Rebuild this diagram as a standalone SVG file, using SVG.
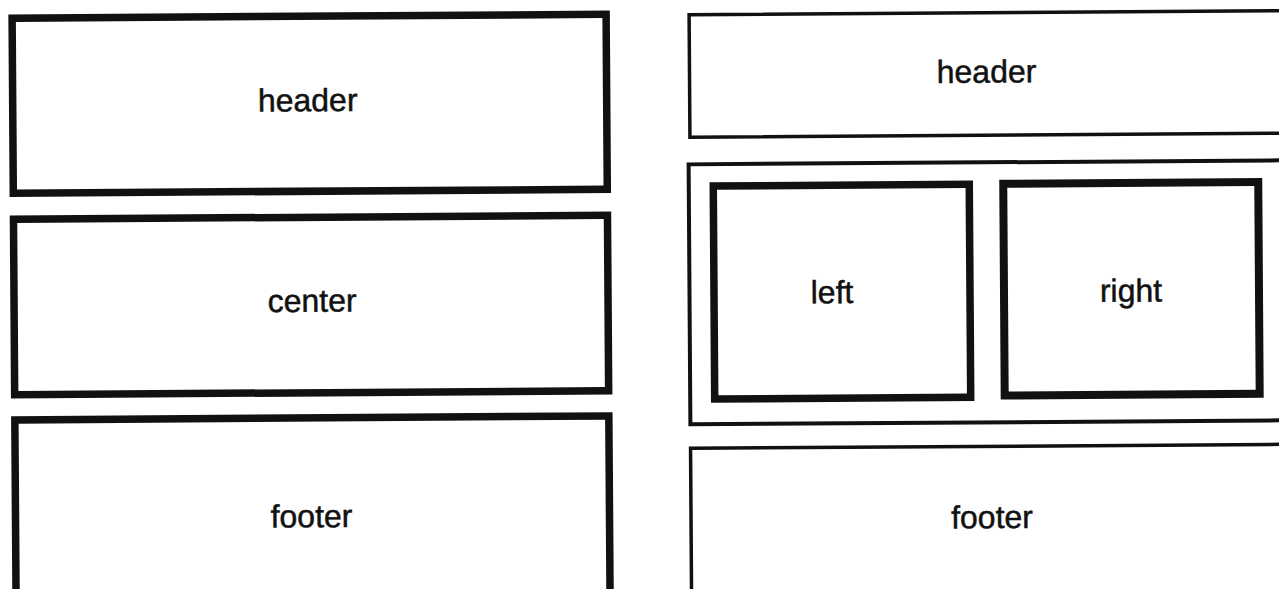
<svg xmlns="http://www.w3.org/2000/svg" width="1279" height="589" viewBox="0 0 1279 589">
  <style>
    .box { fill: none; stroke: #111; }
    .thick { stroke-width: 7.5; }
    .thin { stroke-width: 3.5; }
    .label { font-family: "Liberation Sans", Arial, sans-serif; font-size: 32px; fill: #111; stroke: #111; stroke-width: 0.5; text-anchor: middle; }
  </style>
  <rect x="0" y="0" width="1279" height="589" fill="#ffffff"/>
  <g transform="rotate(-0.39 640 294)">
    <g id="left-header">
      <rect class="box thick" x="14" y="14" width="594" height="175"/>
      <text class="label" x="309" y="109">header</text>
    </g>
    <g id="left-center">
      <rect class="box thick" x="14" y="215" width="594" height="175.5"/>
      <text class="label" x="312" y="309.5">center</text>
    </g>
    <g id="left-footer">
      <rect class="box thick" x="14" y="415.7" width="594" height="182"/>
      <text class="label" x="310" y="525">footer</text>
    </g>
    <g id="right-header">
      <rect class="box thin" x="691" y="15" width="620" height="122.5"/>
      <text class="label" x="988" y="85">header</text>
    </g>
    <g id="right-container">
      <rect class="box" stroke-width="4" x="689.5" y="164.7" width="620" height="260"/>
    </g>
    <g id="left">
      <rect class="box thick" x="714" y="186.5" width="256" height="213"/>
      <text class="label" x="832" y="304.5">left</text>
    </g>
    <g id="right">
      <rect class="box" stroke-width="8" x="1004" y="186.3" width="255" height="211.7"/>
      <text class="label" x="1131" y="305">right</text>
    </g>
    <g id="right-footer">
      <rect class="box thin" x="689.5" y="448.7" width="620" height="160"/>
      <text class="label" x="990.5" y="530.5">footer</text>
    </g>
    <g id="connectors"/>
  </g>
</svg>
